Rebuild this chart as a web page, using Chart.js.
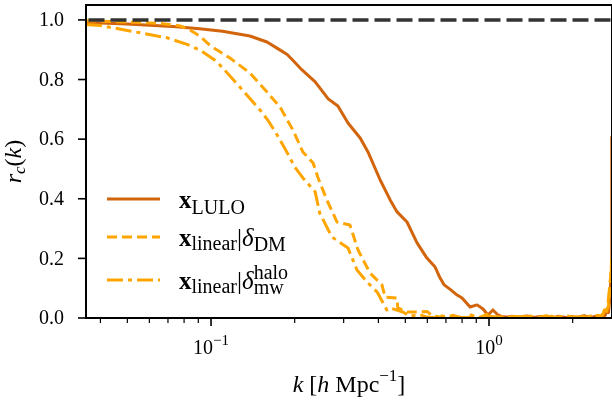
<!DOCTYPE html>
<html lang="en">
<head>
    <meta charset="UTF-8">
    <title>Cross-correlation coefficient r_c(k)</title>
    <script src="https://cdn.jsdelivr.net/npm/chart.js"></script>
    <style>
        html, body {
            margin: 0;
            padding: 0;
            background-color: #ffffff;
        }
        #wrap {
            width: 612px;
            height: 402px;
        }
    </style>
</head>
<body>

<div id="wrap">
    <canvas id="rcChart" width="612" height="402"></canvas>
</div>

<script>
    // k range shown on the log axis [h/Mpc]
    const kMin = 0.0355;
    const kMax = 2.77;
    const refLevel = 1.0;

    // tick values
    const yTicks = [0.0, 0.2, 0.4, 0.6, 0.8, 1.0];
    const xMajorTicks = [0.1, 1];
    const xMinorTicks = [0.04, 0.05, 0.06, 0.07, 0.08, 0.09, 0.2, 0.3, 0.4, 0.5, 0.6, 0.7, 0.8, 0.9, 2];

    // [k, r_c] pairs for each reconstruction
    const luloData = [
        [0.0355, 0.991], [0.040, 0.990], [0.050, 0.986], [0.060, 0.982], [0.075, 0.977], [0.091, 0.970],
        [0.110, 0.962], [0.138, 0.946], [0.159, 0.926], [0.175, 0.902], [0.188, 0.884], [0.200, 0.858],
        [0.212, 0.833], [0.237, 0.792], [0.264, 0.735], [0.286, 0.711], [0.311, 0.654], [0.344, 0.604],
        [0.367, 0.557], [0.406, 0.463], [0.441, 0.396], [0.467, 0.356], [0.507, 0.322], [0.551, 0.252],
        [0.598, 0.201], [0.640, 0.171], [0.667, 0.134], [0.690, 0.111], [0.725, 0.096], [0.768, 0.077],
        [0.800, 0.067], [0.855, 0.037], [0.906, 0.044], [0.952, 0.030], [0.991, 0.010], [1.033, 0.027],
        [1.077, 0.010], [1.12, 0.004], [1.16, 0.003], [1.21, 0.006], [1.26, 0.002], [1.31, 0.004],
        [1.37, 0.007], [1.42, 0.002], [1.48, 0.003], [1.54, 0.005], [1.60, 0.001], [1.66, 0.004],
        [1.72, 0.002], [1.78, 0.006], [1.85, 0.003], [1.92, 0.001], [1.99, 0.005], [2.06, 0.002],
        [2.13, 0.004], [2.20, 0.008], [2.27, 0.003], [2.34, 0.002], [2.40, 0.005], [2.46, 0.003],
        [2.52, 0.006], [2.57, 0.004], [2.62, 0.010], [2.66, 0.030], [2.69, 0.018], [2.72, 0.060],
        [2.75, 0.150], [2.765, 0.610]
    ];

    const dmData = [
        [0.0355, 0.997], [0.050, 0.993], [0.0656, 0.988], [0.0774, 0.980], [0.084, 0.966], [0.0913, 0.945],
        [0.0992, 0.914], [0.1077, 0.893], [0.117, 0.872], [0.138, 0.822], [0.159, 0.758], [0.177, 0.708],
        [0.197, 0.631], [0.214, 0.557], [0.233, 0.520], [0.242, 0.473], [0.261, 0.396], [0.284, 0.322],
        [0.316, 0.312], [0.338, 0.228], [0.373, 0.151], [0.412, 0.111], [0.423, 0.070], [0.466, 0.067],
        [0.470, 0.034], [0.507, 0.020], [0.551, 0.020], [0.598, 0.022], [0.627, 0.007], [0.66, 0.004],
        [0.70, 0.002], [0.74, 0.009], [0.78, 0.003], [0.83, 0.001], [0.88, 0.006], [0.93, 0.002],
        [0.98, 0.012], [1.03, 0.004], [1.09, 0.003], [1.15, 0.001], [1.21, 0.005], [1.27, 0.002],
        [1.33, 0.006], [1.40, 0.003], [1.47, 0.001], [1.54, 0.004], [1.61, 0.008], [1.68, 0.002],
        [1.76, 0.003], [1.84, 0.005], [1.92, 0.002], [2.00, 0.004], [2.08, 0.001], [2.16, 0.006],
        [2.24, 0.003], [2.32, 0.007], [2.39, 0.002], [2.45, 0.009], [2.51, 0.004], [2.56, 0.012],
        [2.61, 0.006], [2.65, 0.025], [2.69, 0.040], [2.72, 0.090], [2.765, 0.200]
    ];

    const haloData = [
        [0.0355, 0.985], [0.040, 0.981], [0.0525, 0.961], [0.0695, 0.940], [0.082, 0.918], [0.092, 0.897],
        [0.105, 0.860], [0.127, 0.775], [0.150, 0.698], [0.160, 0.664], [0.173, 0.614], [0.188, 0.554],
        [0.200, 0.507], [0.214, 0.470], [0.237, 0.423], [0.246, 0.352], [0.272, 0.272], [0.311, 0.235],
        [0.335, 0.161], [0.364, 0.121], [0.396, 0.087], [0.429, 0.027], [0.440, 0.034], [0.490, 0.020],
        [0.520, 0.006], [0.56, 0.012], [0.60, 0.003], [0.64, 0.001], [0.68, 0.007], [0.72, 0.002],
        [0.76, 0.004], [0.81, 0.001], [0.86, 0.010], [0.91, 0.003], [0.96, 0.002], [1.01, 0.006],
        [1.07, 0.002], [1.13, 0.004], [1.19, 0.001], [1.25, 0.005], [1.32, 0.003], [1.39, 0.008],
        [1.46, 0.002], [1.53, 0.001], [1.60, 0.004], [1.68, 0.006], [1.76, 0.002], [1.84, 0.003],
        [1.92, 0.007], [2.00, 0.001], [2.08, 0.004], [2.16, 0.002], [2.24, 0.005], [2.31, 0.003],
        [2.38, 0.006], [2.44, 0.002], [2.50, 0.008], [2.55, 0.004], [2.60, 0.027], [2.64, 0.012],
        [2.68, 0.050], [2.72, 0.110], [2.765, 0.180]
    ];

    const luloColor = '#d2640c';
    const linearColor = '#ffa500';
    const dashStyle = [10, 5];
    const dashDotStyle = [16, 5, 4, 5];

    const SERIF = '"Liberation Serif", "DejaVu Serif", serif';

    function toPoints(pairs) {
        return pairs.map(([k, r]) => ({ x: k, y: r }));
    }

    // draws a row of text runs (font, vertical shift) starting at x, returns the width
    function drawRuns(ctx, runs, x, y, measureOnly) {
        let cx = x;
        let maxAdvance = 0;
        runs.forEach(run => {
            ctx.font = run.font;
            const w = ctx.measureText(run.t).width;
            if (!measureOnly) ctx.fillText(run.t, cx, y + (run.dy || 0));
            if (run.stack) {
                maxAdvance = Math.max(maxAdvance, w);
            } else {
                cx += Math.max(w, maxAdvance);
                maxAdvance = 0;
            }
        });
        return cx - x;
    }

    const mainLeg = '25px ' + SERIF;
    const boldLeg = 'bold 25px ' + SERIF;
    const italLeg = 'italic 25px ' + SERIF;
    const subLeg = '20px ' + SERIF;

    const legendEntries = [
        {
            color: luloColor, dash: [], rowY: 199,
            runs: [{ t: 'x', font: boldLeg }, { t: 'LULO', font: subLeg, dy: 6 }]
        },
        {
            color: linearColor, dash: dashStyle, rowY: 237,
            runs: [{ t: 'x', font: boldLeg }, { t: 'linear', font: subLeg, dy: 4 },
                   { t: '|', font: mainLeg }, { t: 'δ', font: italLeg }, { t: 'DM', font: subLeg, dy: 5 }]
        },
        {
            color: linearColor, dash: dashDotStyle, rowY: 280,
            runs: [{ t: 'x', font: boldLeg }, { t: 'linear', font: subLeg, dy: 4 },
                   { t: '|', font: mainLeg }, { t: 'δ', font: italLeg },
                   { t: 'halo', font: subLeg, dy: -10, stack: true }, { t: 'mw', font: subLeg, dy: 5 }]
        }
    ];

    // frame, ticks, tick labels, axis titles and legend
    const axisDecor = {
        id: 'axisDecor',
        afterDatasetsDraw(chart) {
            const { ctx, chartArea: a, scales: { x, y } } = chart;
            ctx.save();
            ctx.fillStyle = '#000';
            ctx.strokeStyle = '#000';

            // y ticks + labels
            ctx.lineWidth = 1.6;
            ctx.textAlign = 'right';
            ctx.textBaseline = 'middle';
            ctx.font = '20px ' + SERIF;
            yTicks.forEach(v => {
                const py = y.getPixelForValue(v);
                ctx.beginPath();
                ctx.moveTo(a.left - 8, py);
                ctx.lineTo(a.left, py);
                ctx.stroke();
                ctx.fillText(v.toFixed(1), 64, py + 1);
            });

            // x ticks
            xMinorTicks.forEach(v => {
                const px = x.getPixelForValue(v);
                ctx.lineWidth = 1.2;
                ctx.beginPath();
                ctx.moveTo(px, a.bottom);
                ctx.lineTo(px, a.bottom + 5);
                ctx.stroke();
            });
            ctx.textAlign = 'left';
            ctx.textBaseline = 'alphabetic';
            xMajorTicks.forEach(v => {
                const px = x.getPixelForValue(v);
                ctx.lineWidth = 1.6;
                ctx.beginPath();
                ctx.moveTo(px, a.bottom);
                ctx.lineTo(px, a.bottom + 8);
                ctx.stroke();
                const e = Math.round(Math.log10(v));
                const runs = [
                    { t: '10', font: '20px ' + SERIF },
                    { t: (e < 0 ? '\u2212' : '') + Math.abs(e), font: '15px ' + SERIF, dy: -9 }
                ];
                const w = drawRuns(ctx, runs, 0, 0, true);
                drawRuns(ctx, runs, px - w / 2, 354);
            });

            // x title
            const xTitle = [
                { t: 'k', font: 'italic 24px ' + SERIF },
                { t: ' [', font: '24px ' + SERIF },
                { t: 'h', font: 'italic 24px ' + SERIF },
                { t: ' Mpc', font: '24px ' + SERIF },
                { t: '\u22121', font: '17px ' + SERIF, dy: -11 },
                { t: ']', font: '24px ' + SERIF }
            ];
            const xw = drawRuns(ctx, xTitle, 0, 0, true);
            drawRuns(ctx, xTitle, (a.left + a.right) / 2 - xw / 2, 392);

            // y title, rotated
            const yTitle = [
                { t: 'r', font: 'italic 24px ' + SERIF },
                { t: 'c', font: 'italic 17px ' + SERIF, dy: 4 },
                { t: '(', font: '24px ' + SERIF },
                { t: 'k', font: 'italic 24px ' + SERIF },
                { t: ')', font: '24px ' + SERIF }
            ];
            const yw = drawRuns(ctx, yTitle, 0, 0, true);
            ctx.save();
            ctx.translate(21, (a.top + a.bottom) / 2);
            ctx.rotate(-Math.PI / 2);
            drawRuns(ctx, yTitle, -yw / 2, 0);
            ctx.restore();

            // legend
            legendEntries.forEach(entry => {
                ctx.save();
                ctx.strokeStyle = entry.color;
                ctx.lineWidth = 3;
                ctx.setLineDash(entry.dash);
                ctx.beginPath();
                ctx.moveTo(107, entry.rowY);
                ctx.lineTo(160, entry.rowY);
                ctx.stroke();
                ctx.restore();
                drawRuns(ctx, entry.runs, 179, entry.rowY + 9);
            });

            // frame on top of the curves
            ctx.lineWidth = 2;
            ctx.setLineDash([]);
            ctx.strokeRect(a.left, a.top, a.right - a.left, a.bottom - a.top);
            ctx.restore();
        }
    };

    const ctx = document.getElementById('rcChart').getContext('2d');
    const rcChart = new Chart(ctx, {
        type: 'line',
        data: {
            datasets: [
                {
                    label: 'r = 1',
                    data: [{ x: kMin, y: refLevel }, { x: kMax, y: refLevel }],
                    borderColor: '#333333',
                    borderWidth: 3.5,
                    borderDash: [16, 6],
                    borderDashOffset: -2.5,
                    order: 0
                },
                {
                    label: 'x_linear | delta_mw^halo',
                    data: toPoints(haloData),
                    borderColor: linearColor,
                    borderWidth: 3,
                    borderDash: dashDotStyle,
                    order: 1
                },
                {
                    label: 'x_linear | delta_DM',
                    data: toPoints(dmData),
                    borderColor: linearColor,
                    borderWidth: 3,
                    borderDash: dashStyle,
                    order: 2
                },
                {
                    label: 'x_LULO',
                    data: toPoints(luloData),
                    borderColor: luloColor,
                    borderWidth: 3,
                    order: 3
                }
            ]
        },
        options: {
            responsive: false,
            animation: false,
            events: [],
            elements: {
                point: { radius: 0 },
                line: { tension: 0, borderJoinStyle: 'round', fill: false }
            },
            layout: { padding: { left: 86, top: 5, right: 0, bottom: 84 } },
            plugins: {
                legend: { display: false },
                tooltip: { enabled: false }
            },
            scales: {
                x: { type: 'logarithmic', min: kMin, max: kMax, display: false },
                y: { type: 'linear', min: 0, max: 1.05, display: false }
            }
        },
        plugins: [axisDecor]
    });
</script>

</body>
</html>
